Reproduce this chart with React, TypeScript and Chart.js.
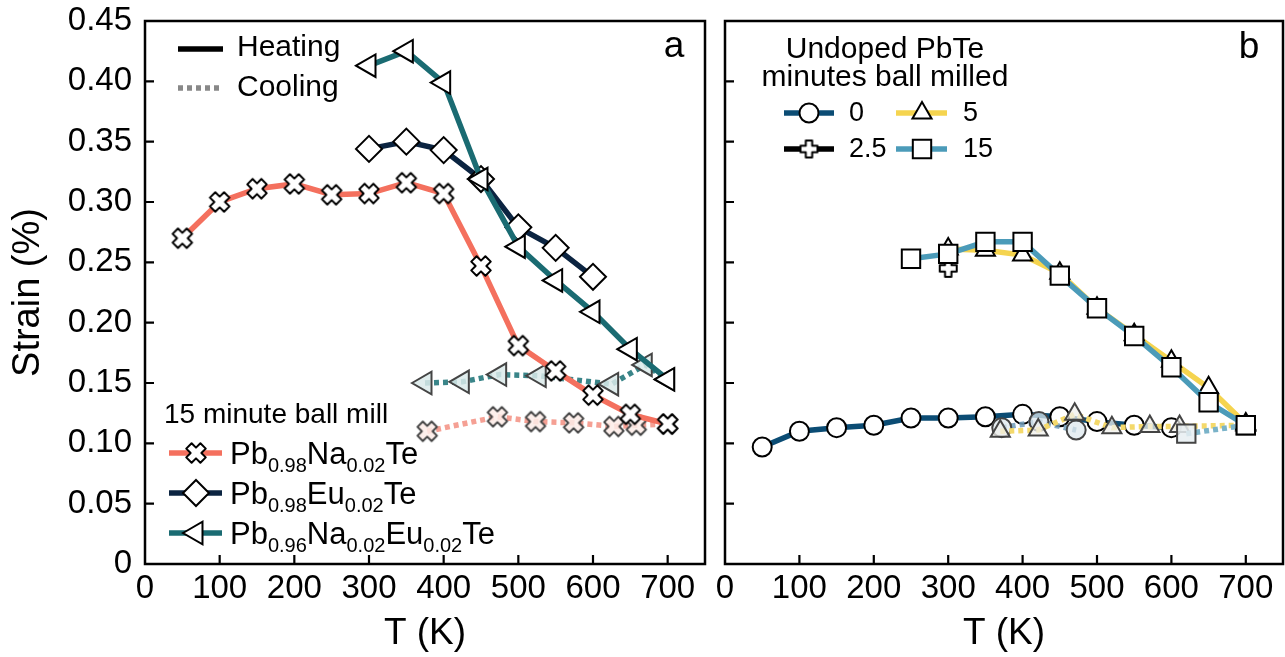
import React, { useEffect, useRef } from 'react';
import { Chart, registerables } from 'chart.js';

Chart.register(...registerables);

const FONT = "'Liberation Sans', Arial, Helvetica, sans-serif";

// ---------- axis ticks ----------
const X_TICKS = [0, 100, 200, 300, 400, 500, 600, 700];
const Y_TICKS = [0, 0.05, 0.1, 0.15, 0.2, 0.25, 0.3, 0.35, 0.4, 0.45];

// ---------- panel a: 15 minute ball mill ----------
const NA_HEAT_T = [50, 100, 150, 200, 250, 300, 350, 400, 450, 500, 550, 600, 650, 700];
const NA_HEAT = [0.27, 0.3, 0.311, 0.315, 0.306, 0.307, 0.316, 0.307, 0.247, 0.181, 0.16, 0.14, 0.124, 0.116];
const EU_HEAT_T = [300, 350, 400, 450, 500, 550, 600];
const EU_HEAT = [0.344, 0.35, 0.343, 0.319, 0.279, 0.262, 0.238];
const NAEU_HEAT_T = [300, 350, 400, 450, 500, 550, 600, 650, 700];
const NAEU_HEAT = [0.413, 0.425, 0.399, 0.319, 0.263, 0.235, 0.209, 0.178, 0.153];
const NA_COOL_T = [378, 472, 523, 574, 628, 658, 700];
const NA_COOL = [0.11, 0.122, 0.118, 0.117, 0.114, 0.115, 0.116];
const NAEU_COOL_T = [375, 425, 475, 528, 625, 670, 700];
const NAEU_COOL = [0.15, 0.151, 0.157, 0.156, 0.149, 0.165, 0.153];

// ---------- panel b: undoped PbTe ----------
const U0_HEAT_T = [50, 100, 150, 200, 250, 300, 350, 400, 450, 500, 550, 600];
const U0_HEAT = [0.097, 0.11, 0.113, 0.115, 0.121, 0.121, 0.122, 0.124, 0.122, 0.118, 0.115, 0.113];
const U0_COOL_T = [372, 422, 472];
const U0_COOL = [0.113, 0.118, 0.111];
const U25_HEAT_T = [300];
const U25_HEAT = [0.245];
const U5_HEAT_T = [300, 350, 400, 450, 500, 550, 600, 650, 700];
const U5_HEAT = [0.261, 0.26, 0.256, 0.241, 0.212, 0.19, 0.168, 0.146, 0.116];
const U15_HEAT_T = [250, 300, 350, 400, 450, 500, 550, 600, 650, 700];
const U15_HEAT = [0.253, 0.257, 0.267, 0.267, 0.239, 0.212, 0.189, 0.163, 0.134, 0.115];
const U5_COOL_T = [370, 421, 470, 520, 571, 611, 700];
const U5_COOL = [0.11, 0.111, 0.124, 0.113, 0.114, 0.114, 0.115];
const U15_COOL_T = [620, 700];
const U15_COOL = [0.108, 0.115];

// ---------- colours ----------
const C_NA = '#f4705e';
const C_NA_COOL = '#f5a094';
const C_EU = '#0b2441';
const C_NAEU = '#1a6b72';
const C_NAEU_COOL = '#3a8589';
const C_U0 = '#0b4c74';
const C_U0_COOL = 'rgba(110,155,185,0.85)';
const C_U25 = '#000000';
const C_U5 = '#f5d44f';
const C_U5_COOL = '#f4d96b';
const C_U15 = '#4b9bb9';
const C_U15_COOL = '#7ab3c9';
const C_COOL_EDGE = '#444444';

const pts = (xs: number[], ys: number[]) => xs.map((x, i) => ({ x, y: ys[i] }));

function makeCrossMarker(fill: string, stroke: string, rot45: boolean, a: number, t: number, lw: number) {
  const ext = Math.hypot(a, t);
  const size = Math.ceil(2 * ext + lw + 4);
  const c = document.createElement('canvas');
  c.width = size;
  c.height = size;
  const g = c.getContext('2d')!;
  g.translate(size / 2, size / 2);
  if (rot45) g.rotate(Math.PI / 4);
  const p = [
    [t, -a], [t, -t], [a, -t], [a, t], [t, t], [t, a],
    [-t, a], [-t, t], [-a, t], [-a, -t], [-t, -t], [-t, -a],
  ];
  g.beginPath();
  p.forEach(([x, y], i) => (i ? g.lineTo(x, y) : g.moveTo(x, y)));
  g.closePath();
  g.fillStyle = fill;
  g.fill();
  g.lineWidth = lw;
  g.lineJoin = 'round';
  g.strokeStyle = stroke;
  g.stroke();
  return c;
}

function drawMarker(ctx: CanvasRenderingContext2D, style: any, x: number, y: number, r: number, rot: number,
  fill: string, stroke: string, lw: number) {
  if (typeof style !== 'string') {
    ctx.drawImage(style, x - style.width / 2, y - style.height / 2);
    return;
  }
  ctx.save();
  ctx.beginPath();
  let rad = (rot * Math.PI) / 180;
  if (style === 'circle') ctx.arc(x, y, r, 0, Math.PI * 2);
  else if (style === 'rect') {
    const s = r * Math.SQRT1_2;
    ctx.rect(x - s, y - s, 2 * s, 2 * s);
  } else if (style === 'rectRot') {
    ctx.moveTo(x, y - r); ctx.lineTo(x + r, y); ctx.lineTo(x, y + r); ctx.lineTo(x - r, y); ctx.closePath();
  } else if (style === 'triangle') {
    ctx.moveTo(x + Math.sin(rad) * r, y - Math.cos(rad) * r);
    rad += (2 * Math.PI) / 3;
    ctx.lineTo(x + Math.sin(rad) * r, y - Math.cos(rad) * r);
    rad += (2 * Math.PI) / 3;
    ctx.lineTo(x + Math.sin(rad) * r, y - Math.cos(rad) * r);
    ctx.closePath();
  }
  ctx.fillStyle = fill;
  ctx.fill();
  ctx.lineWidth = lw;
  ctx.strokeStyle = stroke;
  ctx.stroke();
  ctx.restore();
}

function drawRich(ctx: CanvasRenderingContext2D, parts: [string, boolean][], x: number, yMid: number, main: number, sub: number) {
  ctx.save();
  ctx.fillStyle = '#000';
  ctx.textAlign = 'left';
  ctx.textBaseline = 'alphabetic';
  const base = yMid + main * 0.36;
  let cx = x;
  for (const [txt, isSub] of parts) {
    ctx.font = `${isSub ? sub : main}px ${FONT}`;
    ctx.fillText(txt, cx, isSub ? base + main * 0.24 : base);
    cx += ctx.measureText(txt).width;
  }
  ctx.restore();
}

function drawFrame(chart: any) {
  const { ctx, chartArea: ca, scales } = chart;
  ctx.save();
  ctx.strokeStyle = '#000';
  ctx.lineWidth = 2.5;
  ctx.strokeRect(ca.left, ca.top, ca.right - ca.left, ca.bottom - ca.top);
  ctx.lineWidth = 2.2;
  ctx.beginPath();
  for (const v of Y_TICKS) {
    if (v === 0 || v === 0.45) continue;
    const y = scales.y.getPixelForValue(v);
    ctx.moveTo(ca.left, y);
    ctx.lineTo(ca.left + 9, y);
  }
  for (const v of X_TICKS) {
    if (v === 0) continue;
    const x = scales.x.getPixelForValue(v);
    ctx.moveTo(x, ca.bottom);
    ctx.lineTo(x, ca.bottom - 9);
  }
  ctx.stroke();
  ctx.restore();
}

function legendLine(ctx: CanvasRenderingContext2D, x1: number, x2: number, y: number, color: string, dash: number[] = []) {
  ctx.save();
  ctx.strokeStyle = color;
  ctx.lineWidth = 5.5;
  ctx.setLineDash(dash);
  ctx.beginPath();
  ctx.moveTo(x1, y);
  ctx.lineTo(x2, y);
  ctx.stroke();
  ctx.restore();
}

function text(ctx: CanvasRenderingContext2D, s: string, x: number, y: number, size: number, align: CanvasTextAlign = 'left') {
  ctx.save();
  ctx.fillStyle = '#000';
  ctx.font = `${size}px ${FONT}`;
  ctx.textAlign = align;
  ctx.textBaseline = 'middle';
  ctx.fillText(s, x, y);
  ctx.restore();
}

const xAxis = () => ({
  type: 'linear' as const,
  min: 0,
  max: 750,
  afterBuildTicks: (s: any) => { s.ticks = X_TICKS.map((v) => ({ value: v })); },
  afterFit: (s: any) => { s.height = 93; s.paddingLeft = 0; s.paddingRight = 0; },
  grid: { display: false, drawTicks: false },
  border: { display: false },
  ticks: { font: { family: FONT, size: 33 }, color: '#000', padding: 5, maxRotation: 0, autoSkip: false,
    callback: (v: any) => String(v) },
  title: { display: true, text: 'T (K)', font: { family: FONT, size: 37 }, color: '#000', padding: { top: 0, bottom: 1 } },
});

function lineDs(label: string, data: any[], color: string, style: any, radius: number, rotation: number,
  fill: string, edge: string, order: number, dashed: boolean) {
  return {
    label,
    data,
    borderColor: color,
    borderWidth: 5.5,
    borderDash: dashed ? [5, 4] : [],
    tension: 0,
    fill: false,
    pointStyle: style,
    pointRadius: radius,
    pointRotation: rotation,
    pointBackgroundColor: fill,
    pointBorderColor: edge,
    pointBorderWidth: 2,
    order,
  };
}

export default function App() {
  const refA = useRef<HTMLCanvasElement>(null);
  const refB = useRef<HTMLCanvasElement>(null);

  useEffect(() => {
    const xHeat = makeCrossMarker('#ffffff', '#000000', true, 10, 3.8, 2);
    const xCool = makeCrossMarker('rgba(253,236,232,0.85)', C_COOL_EDGE, true, 10, 3.8, 2);
    const plus = makeCrossMarker('#ffffff', '#000000', false, 8.5, 3.2, 2);

    const legendA = {
      id: 'decorA',
      afterDraw(chart: any) {
        const ctx = chart.ctx as CanvasRenderingContext2D;
        drawFrame(chart);
        const L = chart.chartArea.left;
        // heating / cooling
        legendLine(ctx, L + 33, L + 78, 49, '#000');
        legendLine(ctx, L + 33, L + 78, 88, '#888', [5, 4]);
        text(ctx, 'Heating', L + 92, 48, 30);
        text(ctx, 'Cooling', L + 92, 88, 30);
        text(ctx, 'a', L + 529, 47, 37, 'center');
        // compositions
        text(ctx, '15 minute ball mill', L + 19, 415, 28);
        const rows: [number, string, any, number, number, [string, boolean][]][] = [
          [453, C_NA, xHeat, 10, 0, [['Pb', false], ['0.98', true], ['Na', false], ['0.02', true], ['Te', false]]],
          [493, C_EU, 'rectRot', 13, 0, [['Pb', false], ['0.98', true], ['Eu', false], ['0.02', true], ['Te', false]]],
          [533, C_NAEU, 'triangle', 13, -90, [['Pb', false], ['0.96', true], ['Na', false], ['0.02', true], ['Eu', false], ['0.02', true], ['Te', false]]],
        ];
        for (const [y, col, st, r, rot, parts] of rows) {
          legendLine(ctx, L + 24, L + 77, y, col);
          drawMarker(ctx, st, L + 51, y, r, rot, '#fff', '#000', 2);
          drawRich(ctx, parts, L + 85, y, 31, 20);
        }
      },
    };

    const legendB = {
      id: 'decorB',
      afterDraw(chart: any) {
        const ctx = chart.ctx as CanvasRenderingContext2D;
        drawFrame(chart);
        const L = chart.chartArea.left;
        text(ctx, 'Undoped PbTe', L + 160, 50, 30, 'center');
        text(ctx, 'minutes ball milled', L + 160, 78, 30, 'center');
        text(ctx, 'b', L + 524, 48, 37, 'center');
        legendLine(ctx, L + 59, L + 109, 113, C_U0);
        drawMarker(ctx, 'circle', L + 84, 113, 9.5, 0, '#fff', '#000', 2);
        text(ctx, '0', L + 124, 114, 27);
        legendLine(ctx, L + 171, L + 222, 113, C_U5);
        drawMarker(ctx, 'triangle', L + 197, 113, 11, 0, '#fff', '#000', 2);
        text(ctx, '5', L + 238, 114, 27);
        legendLine(ctx, L + 59, L + 109, 149, C_U25);
        drawMarker(ctx, plus, L + 84, 149, 10, 0, '#fff', '#000', 2);
        text(ctx, '2.5', L + 124, 150, 27);
        legendLine(ctx, L + 171, L + 222, 149, C_U15);
        drawMarker(ctx, 'rect', L + 197, 149, 13, 0, '#fff', '#000', 2);
        text(ctx, '15', L + 238, 150, 27);
      },
    };

    const yAxisA = {
      type: 'linear' as const,
      min: 0,
      max: 0.45,
      afterBuildTicks: (s: any) => { s.ticks = Y_TICKS.map((v) => ({ value: v })); },
      afterFit: (s: any) => { s.width = 145; s.paddingTop = 0; s.paddingBottom = 0; },
      grid: { display: false, drawTicks: false },
      border: { display: false },
      ticks: { font: { family: FONT, size: 33 }, color: '#000', padding: 13,
        callback: (v: any) => (v === 0 ? '0' : Number(v).toFixed(2)) },
      title: { display: true, text: 'Strain (%)', font: { family: FONT, size: 38 }, color: '#000', padding: { top: 6, bottom: 0 } },
    };

    const chartA = new Chart(refA.current!, {
      type: 'line',
      data: {
        datasets: [
          lineDs('Pb0.96Na0.02Eu0.02Te heating', pts(NAEU_HEAT_T, NAEU_HEAT), C_NAEU, 'triangle', 13, -90, '#fff', '#000', 0, false),
          lineDs('Pb0.98Eu0.02Te heating', pts(EU_HEAT_T, EU_HEAT), C_EU, 'rectRot', 13, 0, '#fff', '#000', 1, false),
          lineDs('Pb0.98Na0.02Te heating', pts(NA_HEAT_T, NA_HEAT), C_NA, xHeat, 10, 0, '#fff', '#000', 2, false),
          lineDs('Pb0.96Na0.02Eu0.02Te cooling', pts(NAEU_COOL_T, NAEU_COOL), C_NAEU_COOL, 'triangle', 13, -90, 'rgba(218,234,234,0.85)', C_COOL_EDGE, 3, true),
          lineDs('Pb0.98Na0.02Te cooling', pts(NA_COOL_T, NA_COOL), C_NA_COOL, xCool, 10, 0, '#fff', C_COOL_EDGE, 4, true),
        ] as any,
      },
      options: {
        responsive: false,
        animation: false,
        events: [],
        layout: { autoPadding: false, padding: { left: 0, top: 21, right: 10, bottom: 0 } },
        plugins: { legend: { display: false }, tooltip: { enabled: false }, title: { display: false } },
        scales: { x: xAxis() as any, y: yAxisA as any },
      },
      plugins: [legendA],
    });

    const chartB = new Chart(refB.current!, {
      type: 'line',
      data: {
        datasets: [
          lineDs('15 heating', pts(U15_HEAT_T, U15_HEAT), C_U15, 'rect', 13, 0, '#fff', '#000', 0, false),
          lineDs('5 heating', pts(U5_HEAT_T, U5_HEAT), C_U5, 'triangle', 11, 0, '#fff', '#000', 1, false),
          lineDs('2.5 heating', pts(U25_HEAT_T, U25_HEAT), C_U25, plus, 10, 0, '#fff', '#000', 2, false),
          lineDs('15 cooling', pts(U15_COOL_T, U15_COOL), C_U15_COOL, 'rect', 13, 0, 'rgba(232,238,242,0.85)', C_COOL_EDGE, 3, true),
          lineDs('5 cooling', pts(U5_COOL_T, U5_COOL), C_U5_COOL, 'triangle', 11, 0, 'rgba(240,240,236,0.75)', C_COOL_EDGE, 4, true),
          lineDs('0 cooling', pts(U0_COOL_T, U0_COOL), C_U0_COOL, 'circle', 9.5, 0, 'rgba(222,232,238,0.75)', C_COOL_EDGE, 5, true),
          lineDs('0 heating', pts(U0_HEAT_T, U0_HEAT), C_U0, 'circle', 9.5, 0, '#fff', '#000', 6, false),
        ] as any,
      },
      options: {
        responsive: false,
        animation: false,
        events: [],
        layout: { autoPadding: false, padding: { left: 10, top: 21, right: 2, bottom: 0 } },
        plugins: { legend: { display: false }, tooltip: { enabled: false }, title: { display: false } },
        scales: {
          x: xAxis() as any,
          y: { type: 'linear', display: false, min: 0, max: 0.45 } as any,
        },
      },
      plugins: [legendB],
    });

    return () => {
      chartA.destroy();
      chartB.destroy();
    };
  }, []);

  return (
    <div style={{ position: 'absolute', left: 0, top: 0, width: 1285, height: 657, background: '#fff', overflow: 'hidden' }}>
      <canvas ref={refA} width={715} height={657} style={{ position: 'absolute', left: 0, top: 0, display: 'block' }} />
      <canvas ref={refB} width={570} height={657} style={{ position: 'absolute', left: 715, top: 0, display: 'block' }} />
    </div>
  );
}
